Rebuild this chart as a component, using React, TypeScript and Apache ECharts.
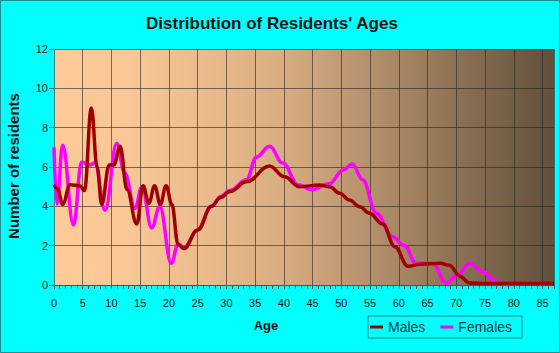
import React, { useEffect, useRef } from "react";
import * as echarts from "echarts";

const maleAges = [0, 0.6, 1.5, 2.8, 4.5, 5.3, 6.5, 7.5, 8.3, 9.6, 10.4, 11.5, 12.7, 14.4, 15.5, 16.5, 17.5, 18.5, 19.5, 20.5, 21.6, 22.6, 25, 27.4, 29, 30.6, 33.5, 37.5, 40.1, 42.7, 46.2, 48, 49.7, 51.4, 53.2, 54.9, 57.2, 59.3, 61.6, 63.6, 67.3, 68.8, 70.6, 72.3, 75, 80, 87];
const maleVals = [5.1, 4.9, 4.1, 5.1, 5.05, 4.8, 9.0, 6.0, 4.1, 6.1, 6.1, 7.05, 4.85, 3.1, 5.05, 4.15, 5.05, 4.1, 5.05, 4.1, 2.05, 1.85, 2.8, 4.0, 4.45, 4.75, 5.25, 6.05, 5.5, 5.0, 5.08, 5.0, 4.66, 4.32, 3.98, 3.65, 3.1, 1.95, 0.95, 1.05, 1.1, 1.0, 0.45, 0.1, 0.08, 0.08, 0.08];

const femaleAges = [0, 0.5, 1.5, 3.4, 4.8, 6.2, 7.1, 8.9, 10.9, 12.3, 14.1, 15.3, 17.0, 18.4, 20.4, 21.6, 22.6, 25, 27.4, 29, 30.6, 33.5, 35.2, 37.5, 39.8, 42.5, 44.8, 47.9, 50.3, 51.9, 53.7, 56.1, 58.9, 61, 63, 65.9, 68.2, 70.2, 72.3, 74.6, 76.9, 79];
const femaleVals = [7.0, 4.1, 7.1, 3.05, 6.25, 6.1, 6.2, 3.8, 7.2, 5.7, 3.9, 5.0, 2.9, 4.0, 1.1, 2.1, 1.9, 2.8, 4.0, 4.5, 4.8, 5.35, 6.5, 7.05, 6.2, 5.1, 4.85, 5.15, 5.85, 6.15, 5.35, 3.65, 2.45, 2.0, 1.1, 1.1, 0.1, 0.5, 1.1, 0.68, 0.15, 0];

const seriesNames = ["Males", "Females"];
const title = "Distribution of Residents' Ages";
const xName = "Age";
const yName = "Number of residents";

export default function App() {
  const ref = useRef<HTMLDivElement>(null);
  useEffect(() => {
    document.body.style.margin = "0";
    const chart = echarts.init(ref.current!, null, { renderer: "svg" });
    const font = "'Liberation Sans', Arial, sans-serif";
    const male = maleAges.map((a, i) => [a, maleVals[i]]);
    const female = femaleAges.map((a, i) => [a, femaleVals[i]]);
    chart.setOption({
      animation: false,
      backgroundColor: "#00FFFF",
      textStyle: { fontFamily: font },
      grid: {
        left: 54,
        right: 6,
        top: 49,
        bottom: 68,
        show: true,
        borderWidth: 0,
        backgroundColor: new echarts.graphic.LinearGradient(0, 0, 1, 0, [
          { offset: 0, color: "#FDCB98" },
          { offset: 0.15, color: "#F8C795" },
          { offset: 0.3, color: "#EBBB8D" },
          { offset: 0.45, color: "#D9AE83" },
          { offset: 0.55, color: "#C79E77" },
          { offset: 0.65, color: "#B18D6A" },
          { offset: 0.75, color: "#9A7B5C" },
          { offset: 0.87, color: "#7D664D" },
          { offset: 1, color: "#614F3B" },
        ]),
      },
      legend: {
        left: 368,
        top: 316,
        data: seriesNames,
        icon: "rect",
        itemWidth: 13,
        itemHeight: 3,
        itemGap: 15,
        padding: [4, 10, 4, 2],
        borderColor: "#1f7f7f",
        borderWidth: 1,
        textStyle: { fontSize: 14, color: "#0d3333", fontFamily: font },
      },
      xAxis: {
        type: "value",
        min: 0,
        max: 87,
        interval: 5,
        axisLine: { show: true, lineStyle: { color: "#2f5f5f", width: 1 } },
        axisTick: { show: true, length: 4, lineStyle: { color: "#2f5f5f" } },
        minorTick: { show: true, splitNumber: 5, length: 4, lineStyle: { color: "#2f5f5f" } },
        minorSplitLine: { show: false },
        axisLabel: {
          showMaxLabel: false,
          margin: 12,
          fontSize: 11,
          color: "#111",
          fontFamily: font,
        },
        splitLine: { show: true, lineStyle: { color: "rgba(40,35,30,0.6)", width: 1 } },
      },
      yAxis: {
        type: "value",
        min: 0,
        max: 12,
        interval: 2,
        axisLine: { show: true, lineStyle: { color: "#3d7f7f", width: 1 } },
        axisTick: { show: true, length: 5, lineStyle: { color: "#3d6f6f" } },
        axisLabel: { margin: 6, fontSize: 11, color: "#222", fontFamily: font },
        splitLine: { show: true, lineStyle: { color: "rgba(40,35,30,0.6)", width: 1 } },
      },
      series: [
        {
          name: seriesNames[0],
          type: "line",
          data: male,
          smooth: 0.4,
          smoothMonotone: "x",
          showSymbol: false,
          z: 4,
          lineStyle: { color: "#A00000", width: 3.5 },
          itemStyle: { color: "#A00000" },
        },
        {
          name: seriesNames[1],
          type: "line",
          data: female,
          smooth: 0.4,
          smoothMonotone: "x",
          showSymbol: false,
          z: 3,
          lineStyle: { color: "#FF00FF", width: 3.5 },
          itemStyle: { color: "#FF00FF" },
        },
      ],
      graphic: [
        {
          type: "rect",
          shape: { x: 0.5, y: 0.5, width: 559, height: 352 },
          style: { fill: "none", stroke: "#1f8f8f", lineWidth: 1 },
          silent: true,
          z: 100,
        },
        {
          type: "text",
          x: 272,
          y: 23,
          style: {
            text: title,
            fontSize: 17,
            fontWeight: "bold",
            fontFamily: font,
            fill: "#111",
            align: "center",
            verticalAlign: "middle",
          },
        },
        {
          type: "text",
          x: 266,
          y: 325,
          style: {
            text: xName,
            fontSize: 13,
            fontWeight: "bold",
            fontFamily: font,
            fill: "#111",
            align: "center",
            verticalAlign: "middle",
          },
        },
        {
          type: "text",
          x: 13,
          y: 166,
          rotation: Math.PI / 2,
          style: {
            text: yName,
            fontSize: 15,
            fontWeight: "bold",
            fontFamily: font,
            fill: "#111",
            align: "center",
            verticalAlign: "middle",
          },
        },
      ],
    });
    return () => chart.dispose();
  }, []);
  return <div ref={ref} style={{ width: 560, height: 353 }} />;
}
